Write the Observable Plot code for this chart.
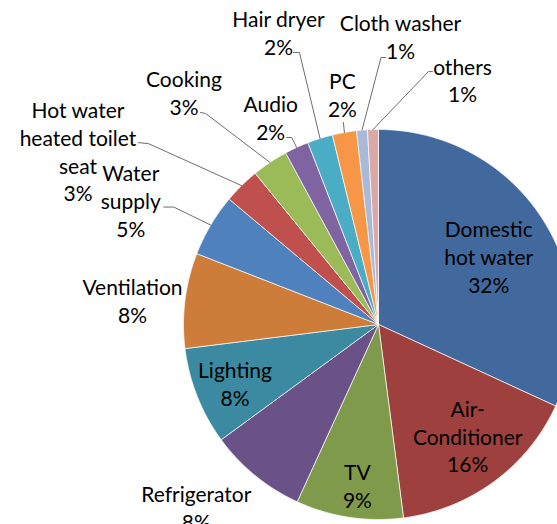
<!DOCTYPE html>
<html><head><meta charset="utf-8">
<script src="https://cdn.jsdelivr.net/npm/d3@7"></script>
<script src="https://cdn.jsdelivr.net/npm/@observablehq/plot@0.6"></script>
<style>html,body{margin:0;padding:0;background:#fff;overflow:hidden}</style>
</head><body><div id="chart"></div>
<script>
// ---- data ----
const categories = ["Domestic hot water","Air-Conditioner","TV","Refrigerator","Lighting","Ventilation","Water supply","Hot water heated toilet seat","Cooking","Audio","Hair dryer","PC","Cloth washer","others"];
const labelText = ["Domestic\nhot water","Air-\nConditioner","TV","Refrigerator","Lighting","Ventilation","Water\nsupply","Hot water\nheated toilet\nseat","Cooking","Audio","Hair dryer","PC","Cloth washer","others"];
const shares = [31.9,16.1,8.9,8.1,8.1,7.9,5.2,3.0,3.0,2.0,2.1,2.0,0.9,0.9];

// ---- styles / layout ----
const colors = ["#41699D","#9E403D","#7F9A4A","#6A5188","#3B8AA1","#CD7C3A","#4F81BD","#C0504D","#9BBB59","#8064A2","#4BACC6","#F79646","#A9B9D8","#D9A8A7"];
const W = 557, H = 524, CX = 378, CY = 324, R = 195;
// label placement: r = radial factor of anchor at slice mid-angle, dx/dy = pixel offset
const labelPlace = [
  {r:0.72, dx:-8, dy:7},
  {r:0.72, dx:6, dy:-2},
  {r:0.72, dx:0, dy:22},
  {r:1, dx:-59, dy:31},
  {r:0.72, dx:-13, dy:7},
  {r:1, dx:-52.5, dy:0},
  {r:1, dx:-80, dy:-25},
  {r:1, dx:-163.6, dy:-35},
  {r:1, dx:-86, dy:-70},
  {r:1, dx:-26, dy:-30},
  {r:1, dx:-41.6, dy:-106},
  {r:1, dx:-2, dy:-38},
  {r:1, dx:38.5, dy:-93.7},
  {r:1, dx:89.5, dy:-50}
];
// leader line free-end points, pixel offsets from label centre (null = no leader)
const leaderEnds = [null,null,null,null,null,null,
  [[33,7],[43,7]],
  [[60.5,-8],[70.5,-7]],
  [[16.5,20],[21.5,21]],
  [[16,20],[21,20]],
  [[15,20],[21,20]],
  [[1,28]],
  [[-15,21],[-19.5,21]],
  [[-30,-8],[-34,-8]]
];

const arcs = d3.pie().sort(null).value(d => d)(shares);
const polar = (a, r) => [r * Math.sin(a), -r * Math.cos(a)];

// slice polygons
const slicePts = [];
arcs.forEach((a, i) => {
  const name = categories[i];
  slicePts.push({name, x: 0, y: 0});
  const n = Math.max(4, Math.ceil((a.endAngle - a.startAngle) / 0.005));
  for (let k = 0; k <= n; k++) {
    const t = a.startAngle + (a.endAngle - a.startAngle) * k / n;
    const [x, y] = polar(t, 1);
    slicePts.push({name, x, y});
  }
  slicePts.push({name, x: 0, y: 0});
});

// labels
const labels = arcs.map((a, i) => {
  const mid = (a.startAngle + a.endAngle) / 2;
  const p = labelPlace[i];
  const [px, py] = polar(mid, p.r);
  return {name: categories[i], mid, x: px + p.dx / R, y: py + p.dy / R,
          text: labelText[i] + "\n" + Math.round(shares[i]) + "%"};
});

// leaders
const leaderPts = [];
labels.forEach((l, i) => {
  const ends = leaderEnds[i];
  if (!ends) return;
  ends.forEach(([ox, oy]) => leaderPts.push({name: l.name, x: l.x + ox / R, y: l.y + oy / R}));
  const [ex, ey] = polar(l.mid, 1);
  leaderPts.push({name: l.name, x: ex, y: ey});
});

const chart = Plot.plot({
  width: W, height: H,
  margin: 0,
  style: {background: "#fff", overflow: "hidden"},
  x: {domain: [-CX / R, (W - CX) / R], range: [0, W], axis: null},
  y: {domain: [-CY / R, (H - CY) / R], range: [0, H], axis: null},
  color: {domain: categories, range: colors},
  marks: [
    Plot.line(slicePts, {x: "x", y: "y", z: "name", fill: "name", stroke: "#fff", strokeWidth: 0.7, curve: "linear"}),
    Plot.line(leaderPts, {x: "x", y: "y", z: "name", stroke: "#6e6e6e", strokeWidth: 1}),
    Plot.text(labels, {x: "x", y: "y", text: "text", fontSize: 21, lineHeight: 1.33,
      fontFamily: "Lato", fill: "#000", textAnchor: "middle"})
  ]
});
document.getElementById("chart").appendChild(chart);
</script>
</body></html>
